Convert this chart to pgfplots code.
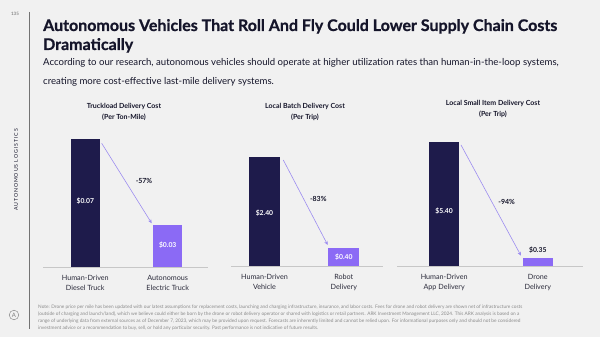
\documentclass[border=0pt]{standalone}
\usepackage{pgfplots}
\pgfplotsset{compat=1.18}
\usepackage{fontspec}
\setmainfont{Lato}
\usetikzlibrary{arrows.meta}
\definecolor{bg}{HTML}{F1F1F1}
\definecolor{navy}{HTML}{1E1B4B}
\definecolor{violet}{HTML}{8B6AF5}
\definecolor{arrowc}{HTML}{9C8CF0}
\definecolor{txt}{HTML}{15152A}
\definecolor{lbl}{HTML}{2A2A3A}
\definecolor{foot}{HTML}{8A8A8A}
\pgfplotsset{panel/.style={scale only axis, height=150pt, ymin=0, hide y axis,
  axis x line*=bottom, x axis line style={-, draw=black!22, line width=0.7pt},
  xtick={0,1}, major tick length=0pt,
  xticklabel style={align=center, font=\fontsize{7.2}{10.6}\selectfont, text=lbl, yshift=-4.5pt},
  ybar, clip=false, anchor=south west}}
\begin{document}
\begin{tikzpicture}[x=1pt,y=1pt]
\fill[bg] (0,0) rectangle (600,337);
% frame elements
\draw[black!55, line width=0.6pt] (29,325) -- (29,8);
\node[font=\fontsize{4.5}{5}\selectfont, text=black!60] at (15,323) {135};
\node[rotate=90, font=\fontsize{5.2}{6}\selectfont\addfontfeature{LetterSpace=18}, text=txt] at (16,167) {AUTONOMOUS LOGISTICS};
% title
\node[anchor=base west, inner sep=0pt, font=\fontsize{16}{17}\selectfont\bfseries\addfontfeature{FakeBold=0.8}, text=txt] at (43,306) {Autonomous Vehicles That Roll And Fly Could Lower Supply Chain Costs};
\node[anchor=base west, inner sep=0pt, font=\fontsize{16}{17}\selectfont\bfseries\addfontfeature{FakeBold=0.8}, text=txt] at (43,287) {Dramatically};
\node[anchor=base west, inner sep=0pt, font=\fontsize{9.6}{11}\selectfont, text=txt] at (43,271.5) {According to our research, autonomous vehicles should operate at higher utilization rates than human-in-the-loop systems,};
\node[anchor=base west, inner sep=0pt, font=\fontsize{9.6}{11}\selectfont, text=txt] at (43,252.5) {creating more cost-effective last-mile delivery systems.};
% panel titles
\node[font=\fontsize{7}{8}\selectfont\bfseries, text=txt] at (124,231) {Truckload Delivery Cost};
\node[font=\fontsize{7}{8}\selectfont\bfseries, text=txt] at (124,220) {(Per Ton-Mile)};
\node[font=\fontsize{7}{8}\selectfont\bfseries, text=txt] at (305,231) {Local Batch Delivery Cost};
\node[font=\fontsize{7}{8}\selectfont\bfseries, text=txt] at (305,220) {(Per Trip)};
\node[font=\fontsize{7}{8}\selectfont\bfseries, text=txt] at (493,234) {Local Small Item Delivery Cost};
\node[font=\fontsize{7}{8}\selectfont\bfseries, text=txt] at (493,223) {(Per Trip)};
% panel 1
\begin{axis}[panel, at={(43pt,70pt)}, width=165pt, xmin=-0.513, xmax=1.489, ymax=0.08178, bar width=29.5pt,
  xticklabels={{Human-Driven\\Diesel Truck},{Autonomous\\Electric Truck}}]
\addplot[fill=navy, draw=none, bar shift=0pt] coordinates {(0,0.07)};
\addplot[fill=violet, draw=none, bar shift=0pt] coordinates {(1,0.0231)};
\node[text=white, font=\fontsize{6.8}{8}\selectfont\bfseries] at (axis cs:0,0.036) {\$0.07};
\node[text=white, font=\fontsize{6.8}{8}\selectfont\bfseries] at (axis cs:1,0.0118) {\$0.03};
\end{axis}
% panel 2
\begin{axis}[panel, at={(231pt,71pt)}, width=152pt, xmin=-0.422, xmax=1.494, ymax=3.2937, bar width=31pt,
  xticklabels={{Human-Driven\\Vehicle},{Robot\\Delivery}}]
\addplot[fill=navy, draw=none, bar shift=0pt] coordinates {(0,2.40)};
\addplot[fill=violet, draw=none, bar shift=0pt] coordinates {(1,0.39)};
\node[text=white, font=\fontsize{6.8}{8}\selectfont\bfseries] at (axis cs:0,1.16) {\$2.40};
\node[text=white, font=\fontsize{6.8}{8}\selectfont\bfseries] at (axis cs:1,0.2) {\$0.40};
\end{axis}
% panel 3
\begin{axis}[panel, at={(397pt,71pt)}, width=186pt, xmin=-0.504, xmax=1.483, ymax=6.5165, bar width=29.5pt,
  xticklabels={{Human-Driven\\App Delivery},{Drone\\Delivery}}]
\addplot[fill=navy, draw=none, bar shift=0pt] coordinates {(0,5.40)};
\addplot[fill=violet, draw=none, bar shift=0pt] coordinates {(1,0.34)};
\node[text=white, font=\fontsize{6.8}{8}\selectfont\bfseries] at (axis cs:0,2.4) {\$5.40};
\node[text=txt, font=\fontsize{6.8}{8}\selectfont\bfseries, anchor=south] at (axis cs:1,0.40) {\$0.35};
\end{axis}
% arrows
\draw[arrowc, line width=0.6pt, -{Stealth[length=4pt,width=3.5pt]}] (101.7,193.7) -- (151.7,113.7);
\draw[arrowc, line width=0.6pt, -{Stealth[length=4pt,width=3.5pt]}] (283.3,177) -- (327.7,92);
\draw[arrowc, line width=0.6pt, -{Stealth[length=4pt,width=3.5pt]}] (461,192) -- (521,81.3);
\node[font=\fontsize{7}{8}\selectfont\bfseries, text=txt] at (144,156.3) {-57\%};
\node[font=\fontsize{7}{8}\selectfont\bfseries, text=txt] at (318.3,137.7) {-83\%};
\node[font=\fontsize{7}{8}\selectfont\bfseries, text=txt] at (506.7,135.3) {-94\%};
% logo
\draw[black!45, line width=0.5pt] (14,22) circle (4.8);
\node[font=\fontsize{6}{6}\selectfont, text=black!50] at (14,22) {A};
% footnote
\node[anchor=north west, inner sep=0pt, align=left, font=\fontsize{4.75}{7}\selectfont, text=foot] at (38,32) {Note: Drone price per mile has been updated with our latest assumptions for replacement costs, launching and charging infrastructure, insurance, and labor costs. Fees for drone and robot delivery are shown net of infrastructure costs\\(outside of charging and launch/land), which we believe could either be born by the drone or robot delivery operator or shared with logistics or retail partners. ARK Investment Management LLC, 2024. This ARK analysis is based on a\\range of underlying data from external sources as of December 7, 2023, which may be provided upon request. Forecasts are inherently limited and cannot be relied upon. For informational purposes only and should not be considered\\investment advice or a recommendation to buy, sell, or hold any particular security. Past performance is not indicative of future results.};
\end{tikzpicture}
\end{document}
